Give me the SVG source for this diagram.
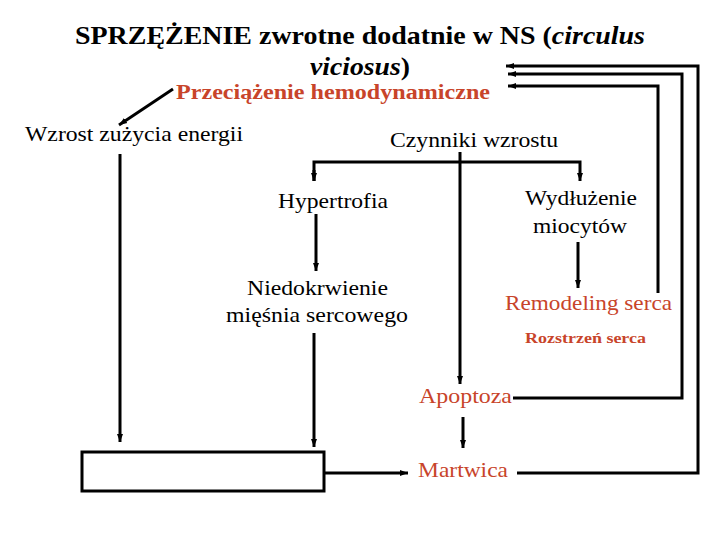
<svg xmlns="http://www.w3.org/2000/svg" width="720" height="540" viewBox="0 0 720 540">
<style>
text{font-family:'Liberation Serif','DejaVu Serif','Times New Roman',serif;fill:#000}
.r{fill:#C8442A}
.b{font-weight:bold}
.c{stroke:#000;stroke-width:3;fill:none}
</style>
<defs>
<marker id="ah" markerUnits="userSpaceOnUse" markerWidth="9" markerHeight="8" refX="8" refY="4" orient="auto">
<path d="M0,1 L8,4 L0,7 Z" fill="#000"/>
</marker>
</defs>
<rect width="720" height="540" fill="#fff"/>
<g id="title">
<text class="b" x="75" y="44" font-size="26" textLength="570" lengthAdjust="spacingAndGlyphs">SPRZĘŻENIE zwrotne dodatnie w NS (<tspan font-style="italic">circulus</tspan></text>
<text class="b" x="310" y="75" font-size="25" textLength="100" lengthAdjust="spacingAndGlyphs"><tspan font-style="italic">viciosus</tspan>)</text>
</g>
<g id="przeciazenie"><text class="r b" x="176" y="99" font-size="20" textLength="314" lengthAdjust="spacingAndGlyphs">Przeciążenie hemodynamiczne</text></g>
<g id="wzrost"><text x="25" y="141" font-size="21" textLength="218" lengthAdjust="spacingAndGlyphs">Wzrost zużycia energii</text></g>
<g id="czynniki"><text x="390" y="147" font-size="21" textLength="168" lengthAdjust="spacingAndGlyphs">Czynniki wzrostu</text></g>
<g id="hypertrofia"><text x="278" y="208" font-size="21" textLength="110" lengthAdjust="spacingAndGlyphs">Hypertrofia</text></g>
<g id="wydluzenie">
<text x="525" y="205" font-size="21" textLength="112" lengthAdjust="spacingAndGlyphs">Wydłużenie</text>
<text x="533" y="233" font-size="21" textLength="94" lengthAdjust="spacingAndGlyphs">miocytów</text>
</g>
<g id="niedokrwienie">
<text x="247" y="295" font-size="21" textLength="141" lengthAdjust="spacingAndGlyphs">Niedokrwienie</text>
<text x="226" y="322" font-size="21" textLength="182" lengthAdjust="spacingAndGlyphs">mięśnia sercowego</text>
</g>
<g id="remodeling">
<text class="r" x="505" y="310" font-size="22" textLength="167" lengthAdjust="spacingAndGlyphs">Remodeling serca</text>
<text class="r b" x="525" y="343" font-size="14" textLength="121" lengthAdjust="spacingAndGlyphs">Rozstrzeń serca</text>
</g>
<g id="apoptoza"><text class="r" x="419" y="403" font-size="21" textLength="93" lengthAdjust="spacingAndGlyphs">Apoptoza</text></g>
<g id="martwica"><text class="r" x="418" y="477" font-size="21" textLength="90" lengthAdjust="spacingAndGlyphs">Martwica</text></g>
<g id="box"><rect x="82" y="452" width="242" height="39" fill="none" stroke="#000" stroke-width="3"/></g>
<g id="connectors">
<path class="c" d="M173,89 L119,125" marker-end="url(#ah)"/>
<path class="c" d="M120,154 L120,442" marker-end="url(#ah)"/>
<path class="c" d="M314,181 L314,162 L580,162 L580,181" marker-end="url(#ah)"/>
<path class="c" d="M314,170 L314,181" marker-end="url(#ah)"/>
<path class="c" d="M460,152 L460,384" marker-end="url(#ah)"/>
<path class="c" d="M316,214 L316,271" marker-end="url(#ah)"/>
<path class="c" d="M314,333 L314,447" marker-end="url(#ah)"/>
<path class="c" d="M578,242 L578,288" marker-end="url(#ah)"/>
<path class="c" d="M463,417 L463,448" marker-end="url(#ah)"/>
<path class="c" d="M324,473 L408,473" marker-end="url(#ah)"/>
<path class="c" d="M658,293 L658,86 L508,86" marker-end="url(#ah)"/>
<path class="c" d="M513,398 L682,398 L682,74 L508,74" marker-end="url(#ah)"/>
<path class="c" d="M517,473 L698,473 L698,66 L506,66" marker-end="url(#ah)"/>
</g>
</svg>
